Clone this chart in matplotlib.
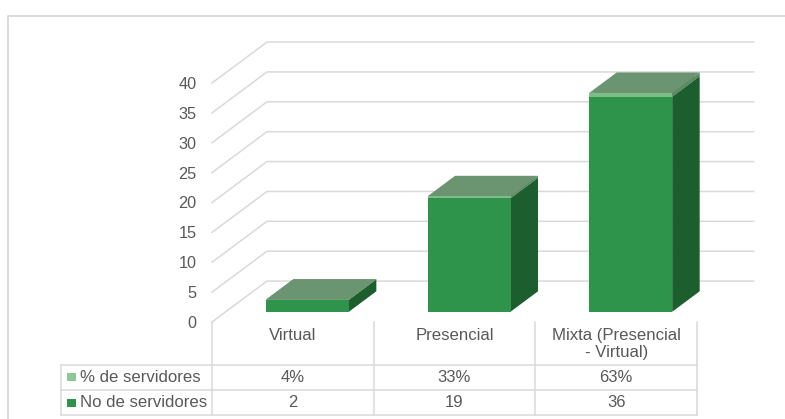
import matplotlib
matplotlib.use("Agg")
import matplotlib.pyplot as plt
from matplotlib.patches import Polygon, Rectangle
from matplotlib.transforms import Affine2D, blended_transform_factory

plt.rcParams["font.family"] = ["Liberation Sans", "DejaVu Sans"]

# Data
categorias = ["Virtual", "Presencial", "Mixta (Presencial\n- Virtual)"]
no_servidores = [2, 19, 36]
pct_servidores = [0.04, 0.33, 0.63]
pct_labels = ["4%", "33%", "63%"]
y_ticks = [0, 5, 10, 15, 20, 25, 30, 35, 40]
serie_pct = "% de servidores"
serie_no = "No de servidores"

GRID = "#d9d9d9"
TXT = "#595959"
C_FRONT, C_SIDE, C_TOP = "#2e934b", "#1c5e2d", "#6b9570"
C2_FRONT, C2_SIDE, C2_TOP = "#7fbd88", "#5d8a64", "#6b9570"

fig = plt.figure(figsize=(7.85, 4.19), dpi=100)
ax = fig.add_axes([212 / 785, (419 - 322) / 419, 485 / 785, 239 / 419])
ax.set_xlim(0, 3)
ax.set_ylim(0, 40)
for s in ax.spines.values():
    s.set_visible(False)
ax.patch.set_visible(False)

# pixel transform (y from the top of the image)
px = Affine2D().scale(1, -1).translate(0, 419)
x_px = blended_transform_factory(ax.transData, px)

# depth of the 3d floor, in data units
dx = 0.34
dy = 6.85
bar_w = 0.513
bar_x = 0.5 + 0.09

# frame round the picture
fig.add_artist(plt.Line2D([8, 8, 785], [419, 16, 16], color=GRID, lw=1.3, transform=px))

# gridlines with their slanted wall part
for v in y_ticks:
    ax.plot([0, dx, 3 + dx + 0.01], [v, v + dy, v + dy], color=GRID, lw=1.1, clip_on=False, zorder=1)


def box(x, y0, h, front, side, top, z):
    # one bar segment: front, side and top faces
    x0 = x - bar_w / 2
    x1 = x + bar_w / 2
    d_x = dx * 0.5
    d_y = dy * 0.5
    ax.add_patch(Polygon([(x1, y0), (x1 + d_x, y0 + d_y), (x1 + d_x, y0 + h + d_y), (x1, y0 + h)],
                         fc=side, ec="none", clip_on=False, zorder=z))
    ax.add_patch(Polygon([(x0, y0 + h), (x1, y0 + h), (x1 + d_x, y0 + h + d_y), (x0 + d_x, y0 + h + d_y)],
                         fc=top, ec="none", clip_on=False, zorder=z))
    ax.bar(x, h, bar_w, bottom=y0, color=front, zorder=z + 0.1, clip_on=False)


base = dy * 0.25
for i in range(len(categorias)):
    x = i + bar_x
    box(x, base, no_servidores[i], C_FRONT, C_SIDE, C_TOP, 3)
    box(x, base + no_servidores[i], pct_servidores[i], C2_FRONT, C2_SIDE, C2_TOP, 3.5)

# axis labels
ax.set_yticks(y_ticks)
ax.set_yticklabels([str(v) for v in y_ticks], fontsize=11.7, color=TXT)
ax.set_xticks([0.5, 1.5, 2.5])
ax.set_xticklabels(categorias, fontsize=12.1, color=TXT, linespacing=1.15)
ax.tick_params(axis="y", length=0, pad=11)
ax.tick_params(axis="x", length=0, pad=4.5)

# data table under the chart
row_lines = [365, 390, 415]
for y in row_lines:
    fig.add_artist(plt.Line2D([61, 697], [y, y], color=GRID, lw=1.1, transform=px))
fig.add_artist(plt.Line2D([61, 61], [365, 415], color=GRID, lw=1.1, transform=px))
for i in range(4):
    ax.plot([i, i], [322, 415], color=GRID, lw=1.1, transform=x_px, clip_on=False, zorder=1)

for i in range(3):
    ax.text(i + 0.5, 377.5, pct_labels[i], transform=x_px, ha="center", va="center", fontsize=12, color=TXT)
    ax.text(i + 0.5, 402.5, str(no_servidores[i]), transform=x_px, ha="center", va="center", fontsize=12, color=TXT)

fig.add_artist(Rectangle((67, 373), 9, 8, fc="#8fc79a", ec="none", transform=px))
fig.add_artist(Rectangle((67, 399), 9, 8, fc=C_FRONT, ec="none", transform=px))
fig.text(80, 377.5, serie_pct, transform=px, va="center", fontsize=12.1, color=TXT)
fig.text(80, 402.5, serie_no, transform=px, va="center", fontsize=12.1, color=TXT)

fig.savefig("out.png", dpi=100)
